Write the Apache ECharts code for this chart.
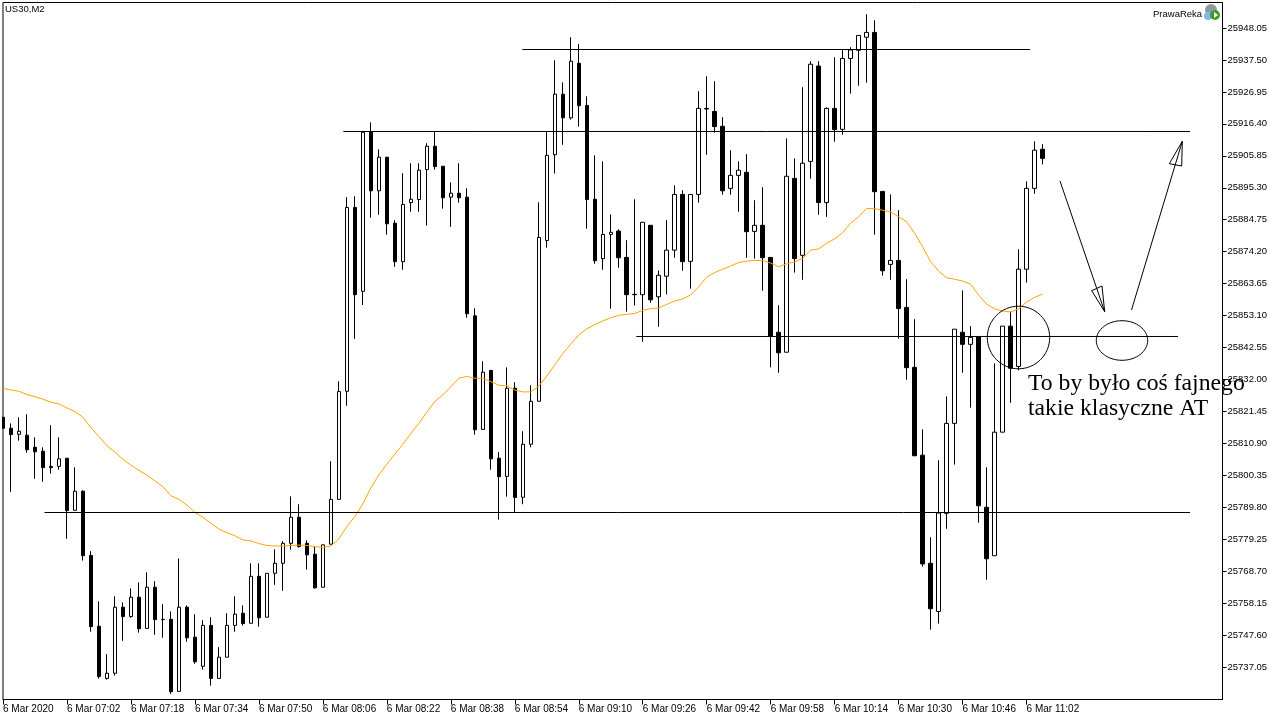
<!DOCTYPE html>
<html><head><meta charset="utf-8">
<style>html,body{margin:0;padding:0;background:#fff}#c{width:1280px;height:720px}</style>
<script src="https://cdn.jsdelivr.net/npm/echarts@6/dist/echarts.min.js"></script>
</head><body><div id="c"></div>
<script>
const opens = [
25819.5,25815.9,25813.9,25813.6,25809.6,25808.3,25803.3,25803.3,25806,25788.8,
25795.1,25773.9,25750.5,25733.3,25735,25756.8,25753.7,25760.1,25749.8,25763.4,
25752.8,25752.8,25729,25756.8,25746.9,25737.3,25750.8,25733.3,25740.3,25750.8,
25754.8,25751.5,25767,25753.5,25768,25771.3,25777.9,25786.5,25777.9,25774.3,
25763.4,25777.6,25792.4,25828.1,25888.8,25861.1,25913.8,25894.3,25905.4,25883.6,
25870.9,25890.4,25891.4,25901.3,25909,25902.4,25892.2,25893.5,25892.2,25853,
25815.5,25835,25806,25800,25829.1,25793.1,25810.6,25824.8,25877.9,25906.2,
25926.2,25918.4,25936.4,25922.5,25891.5,25871.9,25879.9,25881,25872.3,25860.1,
25860,25882.9,25859.3,25866.1,25874.7,25893.1,25871,25893.1,25921.5,25920.5,
25915.6,25895.1,25899.4,25900.4,25880.9,25882.9,25872.3,25847.6,25841,25898.4,
25873,25904,25935.5,25890.4,25921.5,25914.6,25938,25940.7,25945,25946.6,
25894.1,25870,25871.3,25855.8,25836,25807,25771.3,25755.4,25787.8,25817.5,
25847.6,25843.6,25846,25789.8,25773.8,25814.6,25849.6,25836.3,25868.4,25895.1,
25908];
const closes = [
25815.9,25813.8,25814.9,25808.8,25808.1,25802.9,25802.9,25805.8,25788.7,25795.1,
25773.8,25750.4,25733.9,25735,25756.8,25753.7,25760.1,25749.7,25763.4,25752.7,
25752.7,25728.9,25756.8,25746.7,25738.8,25750.8,25733.3,25740.3,25750.8,25754.5,
25751.4,25767,25753.3,25768,25771.3,25777.9,25786.5,25776.8,25774.1,25763.2,
25777.4,25792.4,25828,25888.8,25860,25913.6,25894.3,25905.4,25883.4,25870.9,
25889.8,25891.5,25901.1,25909,25902.3,25892,25893.5,25892,25853.7,25815.4,
25834.4,25805.8,25799.9,25829.1,25793,25810.6,25824.8,25878.9,25906,25926.2,
25918.4,25937.1,25922.4,25891.4,25871.2,25879.9,25880.6,25872.2,25860,25860,
25883.9,25858.3,25866.4,25874.7,25893.1,25870.9,25893.1,25921.5,25921.3,25915.5,
25894.3,25899.4,25901.1,25880.8,25882.9,25872.2,25846.3,25840.8,25899.1,25871.9,
25903.4,25936.1,25890.4,25921.5,25914.5,25938,25940.8,25945.6,25946.6,25894,
25867.9,25871.3,25855.4,25835.9,25806.8,25771.1,25756.3,25787.9,25817.5,25848.6,
25843.6,25845.9,25790.3,25772.8,25814.6,25849.6,25835.7,25868.4,25895.1,25907.7,
25905];
const lows = [
25815.9,25794.9,25811.8,25807.8,25799.2,25798.2,25800.9,25802.2,25779.4,25788.8,
25772.2,25748.7,25733.2,25732.9,25734.2,25745.7,25753.3,25748.4,25749.8,25747.7,
25746.7,25728.2,25729,25745.4,25738.1,25736.2,25730.9,25733.3,25740.3,25748.7,
25750.7,25751.5,25750.4,25753.5,25764.2,25762.2,25775.8,25776.5,25769.2,25762.9,
25763.4,25777.6,25792.4,25823.3,25845.4,25856.6,25885.4,25886.4,25879.8,25869.2,
25868.2,25887.4,25887.4,25882.8,25901.3,25888.4,25882.4,25890.4,25852.4,25813.8,
25815.5,25802.2,25785.7,25793.3,25788.1,25790.8,25809.6,25824.8,25875.5,25900,
25909.5,25917.8,25915.5,25881.8,25870.2,25868.2,25855.4,25868.9,25854.4,25856.4,
25844.4,25857.3,25849.4,25860.1,25872.2,25867.9,25862,25890.4,25906.2,25913.5,
25893,25893,25887.4,25872.2,25871.9,25861.3,25836,25834.2,25841,25867.3,
25864.9,25898.3,25886.4,25885.7,25910.5,25912.8,25926.4,25929,25930,25879.8,
25866.3,25864.9,25845.5,25831.9,25806.8,25770.2,25749.4,25751.4,25782.7,25803.9,
25834.2,25822.7,25784.7,25765.9,25773.8,25814.6,25824.3,25835,25864,25893.3,
25903];
const highs = [
25819.5,25817.5,25819.5,25820.5,25812.9,25809.6,25816.9,25812.9,25806,25803,
25795.4,25775.3,25758.7,25741.3,25760.4,25758.4,25763,25765,25768.3,25765.4,
25757.8,25755.4,25772.9,25757.4,25754.5,25752.5,25753.5,25743.6,25754.8,25760.4,
25757.4,25771.3,25771.3,25768,25775.9,25778.6,25793.4,25790.8,25778.9,25776.9,
25777.4,25805,25831.4,25892.2,25892.5,25913.6,25916.9,25908,25905.4,25884.6,
25900.1,25903.4,25903.4,25910,25913.8,25902.4,25897.1,25903.4,25895.1,25855.5,
25838,25835,25808,25836,25831.1,25814.9,25830.1,25890.5,25913.9,25937.4,
25930.1,25945,25942.8,25925.5,25906,25904,25886.5,25881.6,25878,25891.5,
25883.9,25882.9,25868,25884.6,25896.1,25894.5,25893.1,25927.2,25932.1,25930.5,
25918.6,25907.7,25904,25906.4,25891.2,25895.5,25872.3,25856.5,25911.6,25905,
25928.5,25937.1,25937.1,25921.9,25938.4,25941,25941.7,25945.6,25952.6,25950.6,
25894.1,25893.1,25887.9,25865.1,25851.9,25815.5,25779.9,25805.3,25826.4,25848.6,
25861.4,25849.6,25846,25803,25837.3,25849.6,25854.4,25875,25897.4,25910.6,
25909.7];
const maValues = [
25829.1,25828.5,25828.1,25827,25826.3,25825.5,25824.5,25823.9,25822.6,25821.4,
25819.5,25816.1,25813.1,25810.1,25808,25805.6,25803.7,25802,25800.4,25798.5,
25796.6,25793.6,25792.4,25790.5,25788.1,25786.5,25784.5,25782.6,25781.4,25780.4,
25779,25778.7,25777.8,25777.2,25777,25777,25777.2,25777.3,25777.2,25776.8,
25776.6,25777,25779.4,25783.4,25786.7,25790.9,25796.2,25800.5,25804,25807.3,
25810.6,25814.2,25817.5,25821.2,25824.7,25826.9,25829.6,25832.4,25833,25832.4,
25832.4,25831.3,25830.1,25829.9,25828.5,25827.9,25827.9,25829.8,25833.1,25836.8,
25840.6,25843.7,25846.7,25848.7,25850.1,25851.3,25852.4,25853.2,25853.5,25853.8,
25854.8,25855.4,25855.6,25856.8,25857.9,25858.6,25859.9,25862.6,25865.8,25867.3,
25868.4,25869.5,25870.6,25871.1,25871.3,25871.3,25870.4,25869.2,25870.2,25870.8,
25872,25874.7,25875.1,25877,25878.4,25880.5,25883.6,25885.7,25888.5,25888.4,
25887.9,25887.3,25885.7,25884.1,25880.3,25875.8,25870.9,25867.8,25865.6,25865.1,
25864.5,25863.5,25859.9,25856.9,25855.3,25854.6,25854.3,25855.3,25857.6,25859.1,
25860.2];
const priceTicks = [25948.05,25937.50,25926.95,25916.40,25905.85,25895.30,25884.75,25874.20,25863.65,25853.10,25842.55,25832.00,25821.45,25810.90,25800.35,25789.80,25779.25,25768.70,25758.15,25747.60,25737.05];
const timeLabels = ["6 Mar 2020","6 Mar 07:02","6 Mar 07:18","6 Mar 07:34","6 Mar 07:50","6 Mar 08:06","6 Mar 08:22","6 Mar 08:38","6 Mar 08:54","6 Mar 09:10","6 Mar 09:26","6 Mar 09:42","6 Mar 09:58","6 Mar 10:14","6 Mar 10:30","6 Mar 10:46","6 Mar 11:02"];
const timeTicks = timeLabels.map((_, i) => i * 8);
// horizontal trend lines: [first bar, last bar, price]
const trendHigh = [64.94, 128.44, 25940.955];
const trendMid = [42.56, 148.44, 25913.88];
const trendLow = [79.19, 146.94, 25846.19];
const trendBase = [5.19, 148.44, 25788.07];

const trendSeries = [trendHigh, trendMid, trendLow, trendBase].map(t => ({
  type: 'line', data: [[t[0], t[2]], [t[1], t[2]]], symbol: 'none', silent: true, z: 5,
  lineStyle: { color: '#000', width: 1 }, animation: false
}));
const chart = echarts.init(document.getElementById('c'), null, { renderer: 'canvas' });
const black = '#000';
const stroke = { stroke: black, lineWidth: 1, fill: 'none' };
chart.setOption({
  animation: false,
  backgroundColor: '#fff',
  grid: { left: 2.5, top: 2.5, width: 1220, height: 697, show: true, borderColor: black, borderWidth: 1, backgroundColor: '#fff' },
  xAxis: {
    type: 'value', min: 0, max: 152.5, splitLine: { show: false },
    axisLine: { show: true, onZero: false, lineStyle: { color: black, width: 1 } },
    axisTick: { show: true, length: 5, customValues: timeTicks, lineStyle: { color: black } },
    axisLabel: { customValues: timeTicks, formatter: v => timeLabels[Math.round(v / 8)], align: 'left', margin: 5,
      color: black, fontFamily: 'Liberation Sans', fontSize: 10, showMinLabel: true, showMaxLabel: true }
  },
  yAxis: {
    type: 'value', position: 'right', min: 25726.325, max: 25956.475, splitLine: { show: false },
    axisLine: { show: true, onZero: false, lineStyle: { color: black, width: 1 } },
    axisTick: { show: true, length: 4, customValues: priceTicks, lineStyle: { color: black } },
    axisLabel: { customValues: priceTicks, formatter: v => v.toFixed(2), margin: 5, color: black,
      fontFamily: 'Liberation Sans', fontSize: 9.5 }
  },
  series: [
    { type: 'candlestick', barWidth: 4, z: 2, clip: true, encode: { x: 0, y: [1, 2, 3, 4] },
      data: opens.map((o, i) => [i, o, closes[i], lows[i], highs[i]]),
      itemStyle: { color: '#fff', color0: black, borderColor: black, borderColor0: black, borderWidth: 1 } },
    { type: 'line', z: 4, symbol: 'none', silent: true, data: maValues.map((v, i) => [i, v]),
      lineStyle: { color: '#FFA500', width: 1 } },
    ...trendSeries
  ],
  graphic: [
    { type: 'rect', shape: { x: 0, y: 0, width: 2, height: 720 }, style: { fill: '#fff' }, z: 20 },
    { type: 'ellipse', shape: { cx: 1018.5, cy: 337.5, rx: 31.2, ry: 31.3 }, style: stroke, z: 20 },
    { type: 'ellipse', shape: { cx: 1122, cy: 340.5, rx: 25.7, ry: 19.8 }, style: stroke, z: 20 },
    { type: 'line', shape: { x1: 1060, y1: 181, x2: 1104.7, y2: 311.7 }, style: stroke, z: 20 },
    { type: 'polygon', shape: { points: [[1104.7, 311.7], [1091.7, 290.7], [1102, 286]] }, style: stroke, z: 20 },
    { type: 'line', shape: { x1: 1131.5, y1: 310, x2: 1182.3, y2: 141.3 }, style: stroke, z: 20 },
    { type: 'polygon', shape: { points: [[1182.3, 141.3], [1169.3, 163.7], [1181.7, 166]] }, style: stroke, z: 20 },
    { type: 'text', left: 1028, top: 372, z: 21, style: { text: 'To by było coś fajnego', font: '23.7px "Liberation Serif"', fill: black } },
    { type: 'text', left: 1028, top: 397, z: 21, style: { text: 'takie klasyczne AT', font: '23.7px "Liberation Serif"', fill: black } },
    { type: 'text', left: 5, top: 4, z: 21, style: { text: 'US30,M2', font: '9.5px "Liberation Sans"', fill: black } },
    { type: 'text', left: 1153, top: 9, z: 21, style: { text: 'PrawaReka', font: '9.5px "Liberation Sans"', fill: black } },
    { type: 'circle', shape: { cx: 1211, cy: 10, r: 6 }, style: { fill: '#8e9aa0' }, z: 20 },
    { type: 'circle', shape: { cx: 1208, cy: 16, r: 4 }, style: { fill: '#7fb8e0' }, z: 20 },
    { type: 'circle', shape: { cx: 1215, cy: 15, r: 5 }, style: { fill: '#3f9a2c' }, z: 21 },
    { type: 'polygon', shape: { points: [[1214, 12], [1214, 18], [1218, 15]] }, style: { fill: '#fff' }, z: 22 }
  ]
});
</script></body></html>
